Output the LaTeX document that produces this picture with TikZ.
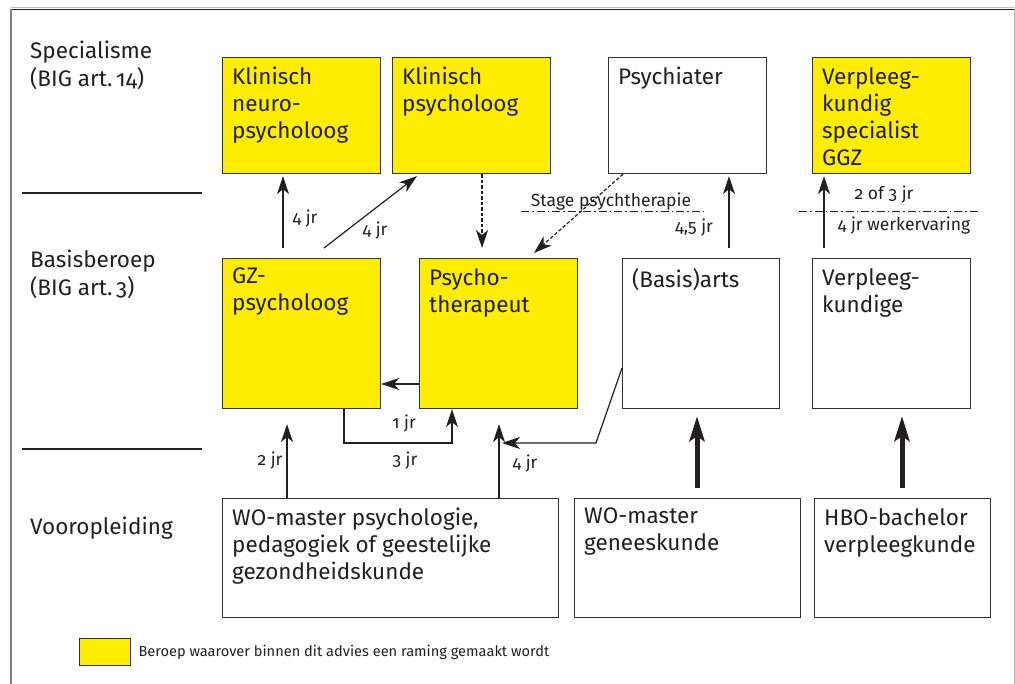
\documentclass[tikz,border=0pt]{standalone}
\usepackage{fontspec}
\setmainfont{Fira Sans}[Numbers=OldStyle]
\usetikzlibrary{arrows.meta,calc}
\definecolor{ylw}{HTML}{FFED00}
\definecolor{edgec}{HTML}{333333}
\definecolor{txtc}{HTML}{231F20}
\begin{document}
\begin{tikzpicture}[x=1pt,y=-1pt,
  box/.style={draw=edgec, line width=1.1pt, anchor=north west, inner sep=0pt, fill=white},
  ybox/.style={box, fill=ylw},
  toprow/.style={minimum width=158pt, minimum height=116pt},
  midrow/.style={minimum width=158pt, minimum height=150pt},
  lbl/.style={anchor=north west, inner sep=0pt, xshift=10pt, yshift=-10pt, align=left,
              text=txtc, font=\fontsize{22.5}{27}\selectfont},
  side/.style={anchor=north west, inner sep=0pt, align=left, text=txtc,
              font=\fontsize{22.5}{28}\selectfont},
  small/.style={inner sep=0pt, text=txtc, font=\fontsize{17.5}{20}\selectfont},
  arr/.style={draw=txtc, line width=1.2pt, -{Stealth[length=18pt,width=12pt,inset=5pt]}},
  darr/.style={arr, dash pattern=on 3.5pt off 2pt},
  thick arr/.style={draw=txtc, line width=5pt, -{Stealth[length=25pt,width=15pt,inset=5pt]}},
  dashdot/.style={draw=txtc, line width=0.9pt, dash pattern=on 8pt off 3pt on 1.5pt off 3pt},
  sep/.style={draw=txtc, line width=1.1pt}
]
\useasboundingbox (0,0) rectangle (1015,684);
% frame
\draw[draw=gray!50, line width=1pt] (11,8) -- (1014,8);
\draw[draw=txtc, line width=1pt] (11,9.5) -- (1014,9.5);
\draw[draw=gray, line width=1.2pt] (11,9) -- (11,684);
\draw[draw=gray!60, line width=1pt] (1014,9) -- (1014,684);

% side labels
\node[side] (s1) at (30,41) {Specialisme\\(BIG art.\,14)};
\node[side] (s2) at (30,250) {Basisberoep\\(BIG art.\,3)};
\node[side] (s3) at (30,517) {Vooropleiding};
\coordinate (l1a) at (22,193); \coordinate (l1b) at (202,193);
\coordinate (l2a) at (22,449); \coordinate (l2b) at (202,449);
\draw[sep] (l1a) -- (l1b);
\draw[sep] (l2a) -- (l2b);

% top row
\node[ybox, toprow, label={[lbl]north west:Klinisch\\neuro-\\psycholoog}] (kn) at (222,57) {};
\node[ybox, toprow, label={[lbl]north west:Klinisch\\psycholoog}] (kp) at (392,57) {};
\node[box, toprow, label={[lbl]north west:Psychiater}] (ps) at (608,57) {};
\node[ybox, toprow, label={[lbl]north west:Verpleeg-\\kundig\\specialist\\GGZ}] (vs) at (812,57) {};

% middle row
\node[ybox, midrow, label={[lbl]north west:GZ-\\psycholoog}] (gz) at (222,258) {};
\node[ybox, midrow, label={[lbl]north west:Psycho-\\therapeut}] (pt) at (419,258) {};
\node[box, midrow, minimum width=157pt, label={[lbl]north west:(Basis)arts}] (ba) at (622,258) {};
\node[box, midrow, label={[lbl]north west:Verpleeg-\\kundige}] (vk) at (812,258) {};

% bottom row
\node[box, minimum width=336pt, minimum height=119pt,
  label={[lbl]north west:WO-master psychologie,\\pedagogiek of geestelijke\\gezondheidskunde}] (wp) at (222,498) {};
\node[box, minimum width=226pt, minimum height=119pt,
  label={[lbl]north west:WO-master\\geneeskunde}] (wg) at (574,498) {};
\node[box, minimum width=176pt, minimum height=119pt,
  label={[lbl]north west:HBO-bachelor\\verpleegkunde}] (hb) at (814,498) {};

% arrows to specialisms
\draw[arr] ([xshift=61pt,yshift=10pt]gz.north west) -- ([xshift=61pt,yshift=-2pt]kn.south west);
\draw[arr] ([xshift=102pt,yshift=10pt]gz.north west) -- ([xshift=25pt,yshift=-2pt]kp.south west);
\draw[darr] ([xshift=90pt]kp.south west) -- ([xshift=63pt,yshift=10pt]pt.north west);
\draw[darr] ([xshift=15pt]ps.south west) -- ([xshift=115pt,yshift=5pt]pt.north west);
\draw[arr] ([xshift=107pt,yshift=10pt]ba.north west) -- ([xshift=121pt,yshift=-2pt]ps.south west);
\draw[arr] ([xshift=12pt,yshift=10pt]vk.north west) -- ([xshift=12pt,yshift=-2pt]vs.south west);

\coordinate (dd1a) at (521,211); \coordinate (dd1b) at (703,211);
\coordinate (dd2a) at (799,211); \coordinate (dd2b) at (980,211);
\draw[dashdot] (dd1a) -- (dd1b);
\draw[dashdot] (dd2a) -- (dd2b);

\node[small] (t1) at (305,219) {4 jr};
\node[small] (t2) at (375,231) {4 jr};
\node[small] (t3) at (611,202) {Stage psychtherapie};
\node[small] (t4) at (694,228) {4,5 jr};
\node[small] (t5) at (884,195) {2 of 3 jr};
\node[small] (t6) at (904,226) {4 jr werkervaring};

% middle connections
\draw[arr] ([yshift=-126pt]pt.north west) -- ([yshift=-126pt]gz.north east);
\draw[arr] ([xshift=122pt]gz.south west) -- ++(0,34) -| ([xshift=33pt]pt.south west);
\coordinate (bend) at (596,443);
\coordinate (tipa) at (502,443);
\draw[arr] ([yshift=-110pt]ba.north west) -- (bend) -- (tipa);

% from education
\draw[arr] ([xshift=65pt]wp.north west) -- ([xshift=65pt,yshift=-15pt]gz.south west);
\draw[arr] ([xshift=277pt]wp.north west) -- ([xshift=80pt,yshift=-15pt]pt.south west);
\draw[thick arr] ([xshift=123pt,yshift=10pt]wg.north west) -- ([xshift=75pt,yshift=-7pt]ba.south west);
\draw[thick arr] ([xshift=88pt,yshift=10pt]hb.north west) -- ([xshift=90pt,yshift=-7pt]vk.south west);

\node[small] (t7) at (404,424) {1 jr};
\node[small] (t8) at (405,461) {3 jr};
\node[small] (t9) at (525,464) {4 jr};
\node[small] (t10) at (270,461) {2 jr};

% legend
\node[box, fill=ylw, line width=1.3pt, minimum width=51pt, minimum height=27pt] (leg) at (79,638) {};
\node[small, anchor=west, font=\fontsize{14.6}{17}\selectfont] (legt) at ([xshift=7pt]leg.east)
  {Beroep waarover binnen dit advies een raming gemaakt wordt};
\end{tikzpicture}
\end{document}
